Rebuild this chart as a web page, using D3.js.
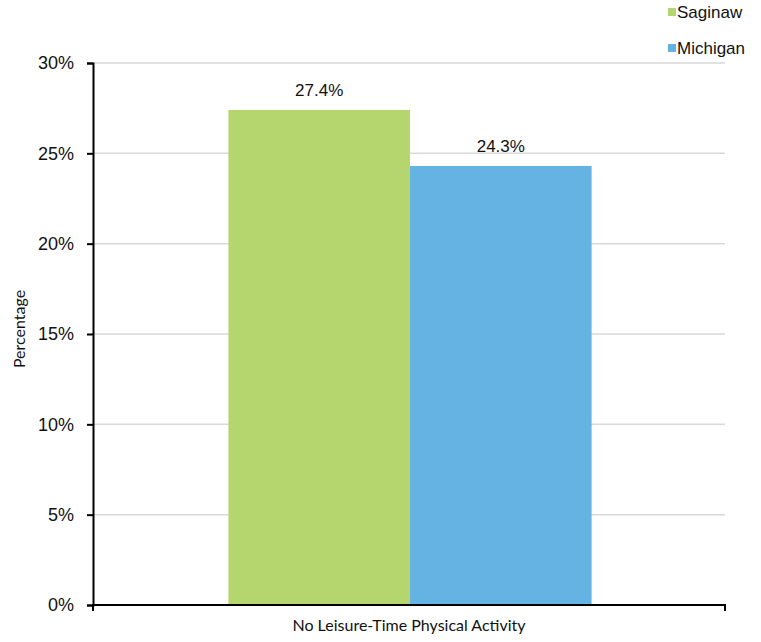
<!DOCTYPE html>
<html><head><meta charset="utf-8">
<script src="https://cdn.jsdelivr.net/npm/d3@7"></script>
<style>body{margin:0;background:#fff}svg{display:block}</style>
</head><body>
<script>
const categories = ["No Leisure-Time Physical Activity"];
const seriesNames = ["Saginaw", "Michigan"];
const saginawValues = [27.4];
const michiganValues = [24.3];
const yTicks = [0, 5, 10, 15, 20, 25, 30];
const colors = ["#b5d66f", "#65b3e3"];

const W = 761, H = 642;
const m = {left: 93, right: 36, top: 63, bottom: 37};
const svg = d3.select("body").append("svg").attr("width", W).attr("height", H);

const y = d3.scaleLinear().domain([0, 30]).range([H - m.bottom, m.top]);
const x0 = d3.scaleBand().domain(categories).range([m.left, W - m.right]).paddingInner(0).paddingOuter(0.37);
const x1 = d3.scaleBand().domain(seriesNames).range([0, x0.bandwidth()]);

const data = categories.map((c, i) => ({cat: c, vals: [saginawValues[i], michiganValues[i]]}));

// gridlines
svg.append("g").selectAll("line").data(yTicks.filter(t => t > 0)).join("line")
  .attr("x1", m.left).attr("x2", W - m.right)
  .attr("y1", d => y(d)).attr("y2", d => y(d))
  .attr("stroke", "#d9d9d9").attr("stroke-width", 1.5);

// bars
const g = svg.append("g").selectAll("g").data(data).join("g")
  .attr("transform", d => `translate(${x0(d.cat) + 1},0)`);
g.selectAll("rect").data(d => d.vals.map((v, i) => ({v, s: seriesNames[i], i}))).join("rect")
  .attr("x", d => x1(d.s)).attr("width", x1.bandwidth())
  .attr("y", d => y(d.v)).attr("height", d => y(0) - y(d.v))
  .attr("fill", d => colors[d.i]);
g.selectAll("text").data(d => d.vals.map((v, i) => ({v, s: seriesNames[i], i}))).join("text")
  .attr("x", d => x1(d.s) + x1.bandwidth() / 2).attr("y", d => y(d.v) - 14)
  .attr("text-anchor", "middle").attr("font-family", "Liberation Sans, Arial, sans-serif")
  .attr("font-size", 17).attr("fill", "#111").text(d => d.v.toFixed(1) + "%");

// y axis
const yAxis = svg.append("g").attr("transform", `translate(${m.left},0)`)
  .call(d3.axisLeft(y).tickValues(yTicks).tickFormat(d => d + "%").tickSize(6).tickPadding(13));
yAxis.select(".domain").attr("stroke", "#000").attr("stroke-width", 2);
yAxis.selectAll(".tick line").attr("stroke", "#000").attr("stroke-width", 2);
yAxis.selectAll(".tick text").attr("font-family", "Liberation Sans, Arial, sans-serif")
  .attr("font-size", 18).attr("fill", "#111");

// x axis
const xAxis = svg.append("g").attr("transform", `translate(0,${y(0)})`)
  .call(d3.axisBottom(x0).tickSize(0).tickPadding(15));
xAxis.select(".domain").attr("stroke", "#000").attr("stroke-width", 2)
  .attr("d", `M${m.left},6V0H${W - m.right}V6`);
xAxis.selectAll(".tick text").attr("font-family", "Lato, Open Sans, sans-serif")
  .attr("font-size", 16).attr("fill", "#111");

// y label
svg.append("text").attr("transform", `translate(25,329) rotate(-90)`)
  .attr("text-anchor", "middle").attr("font-family", "Lato, Open Sans, sans-serif")
  .attr("font-size", 16).attr("fill", "#111").text("Percentage");

// legend
const lg = svg.append("g").selectAll("g").data(seriesNames).join("g")
  .attr("transform", (d, i) => `translate(668,${12 + i * 36})`);
lg.append("rect").attr("x", 0).attr("y", -4).attr("width", 8).attr("height", 8)
  .attr("fill", (d, i) => colors[i]);
lg.append("text").attr("x", 9).attr("y", 0).attr("dy", "0.35em")
  .attr("font-family", "Liberation Sans, Arial, sans-serif").attr("font-size", 17)
  .attr("fill", "#111").text(d => d);
</script>
</body></html>
